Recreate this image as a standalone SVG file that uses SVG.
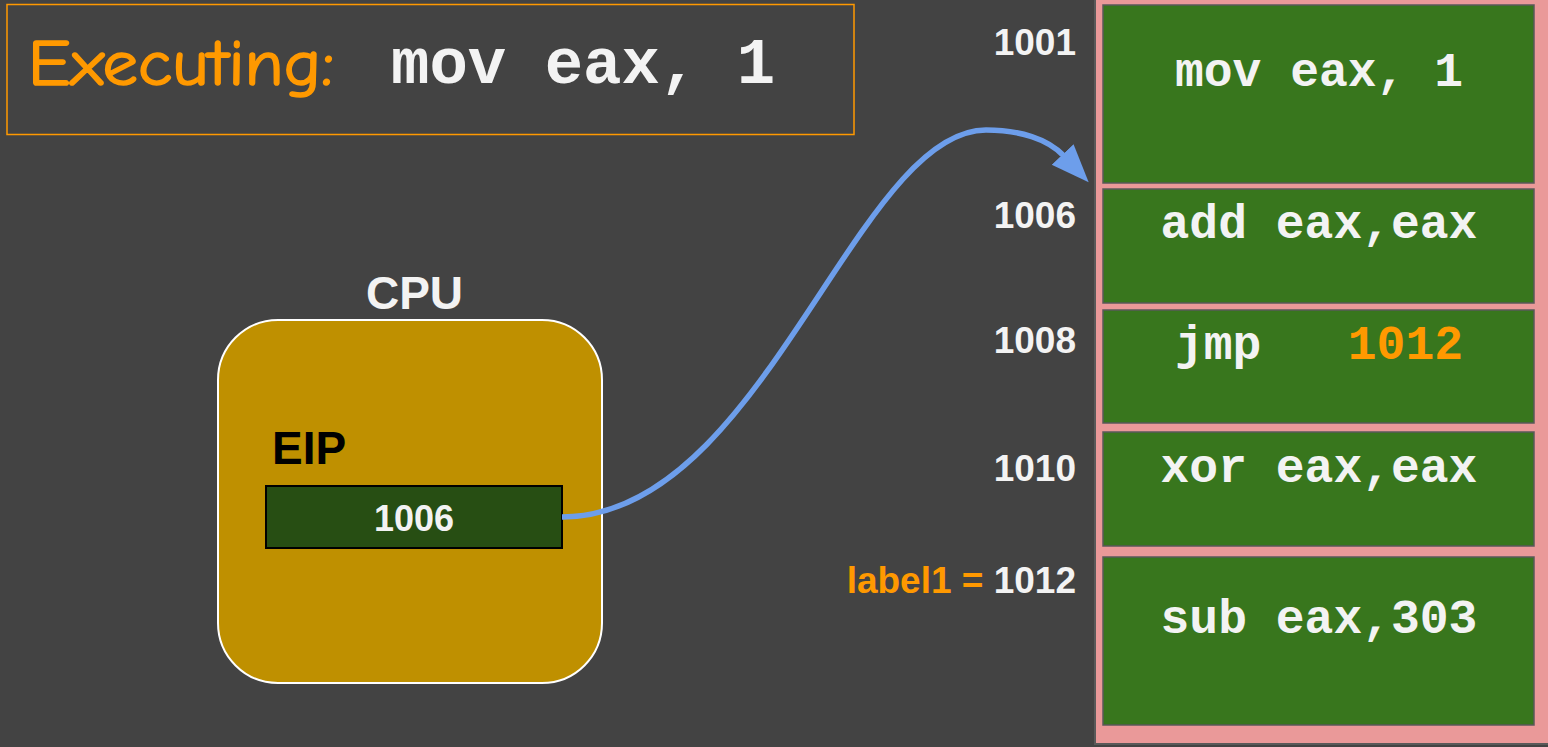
<svg xmlns="http://www.w3.org/2000/svg" width="1548" height="747" viewBox="0 0 1548 747">
  <style>
    .mono { font-family: "Liberation Mono", "Courier New", monospace; font-weight: bold; fill: #f3f3f3; }
    .sans { font-family: "Liberation Sans", Arial, sans-serif; font-weight: bold; }
    .addr { font-size: 37px; fill: #f3f3f3; text-anchor: end; }
    .cell { fill: #38761d; stroke: #595959; stroke-width: 1.5; }
    .code { font-size: 48px; text-anchor: middle; }
    .orange { fill: #ff9900; }
  </style>
  <defs>
    <marker id="arrow" markerUnits="userSpaceOnUse" markerWidth="42" markerHeight="32" refX="2" refY="15" orient="auto">
      <path d="M0,0 L38,15 L0,30 z" fill="#6d9eeb"/>
    </marker>
  </defs>
  <rect x="0" y="0" width="1548" height="747" fill="#434343"/>

  <g id="executing">
    <rect x="7" y="4.5" width="847" height="130" fill="none" stroke="#ff9900" stroke-width="1.5"/>
    <text x="28" y="85" font-family="'Comic Sans MS', 'Comic Neue', 'Open Sans', sans-serif" font-size="64" fill="#ff9900" stroke="#ff9900" stroke-width="1.6" textLength="306" lengthAdjust="spacingAndGlyphs">Executing:</text>
    <text class="mono" x="391" y="83" font-size="64">mov eax, 1</text>
  </g>

  <g id="cpu">
    <text class="sans" x="414.5" y="309" font-size="46" fill="#f3f3f3" text-anchor="middle">CPU</text>
    <rect x="218" y="320" width="384" height="363" rx="60" ry="60" fill="#bf9000" stroke="#ffffff" stroke-width="2"/>
    <text class="sans" x="272" y="464" font-size="46" fill="#000000">EIP</text>
  </g>

  <g id="eip">
    <rect x="266" y="486" width="296" height="62" fill="#274e13" stroke="#000000" stroke-width="2"/>
    <text class="sans" x="414" y="531" font-size="36" fill="#f3f3f3" text-anchor="middle">1006</text>
  </g>

  <g id="memory">
    <rect x="1095" y="-2" width="460" height="746" fill="#ea9999" stroke="#595959" stroke-width="2"/>
  </g>

  <g id="cell-1001">
    <rect class="cell" x="1103" y="5" width="431" height="178"/>
    <text class="mono code" x="1319" y="86">mov eax, 1</text>
    <text class="sans addr" x="1076" y="55">1001</text>
  </g>
  <g id="cell-1006">
    <rect class="cell" x="1103" y="189" width="431" height="114"/>
    <text class="mono code" x="1319" y="238">add eax,eax</text>
    <text class="sans addr" x="1076" y="228">1006</text>
  </g>
  <g id="cell-1008">
    <rect class="cell" x="1103" y="310" width="431" height="113"/>
    <text class="mono" x="1175" y="359" font-size="48">jmp</text>
    <text class="mono orange" x="1347.8" y="359" font-size="48" style="fill:#ff9900">1012</text>
    <text class="sans addr" x="1076" y="353">1008</text>
  </g>
  <g id="cell-1010">
    <rect class="cell" x="1103" y="432" width="431" height="114"/>
    <text class="mono code" x="1319" y="482">xor eax,eax</text>
    <text class="sans addr" x="1076" y="481">1010</text>
  </g>
  <g id="cell-1012">
    <rect class="cell" x="1103" y="557" width="431" height="168"/>
    <text class="mono code" x="1319" y="633">sub eax,303</text>
    <text class="sans addr" x="1076" y="593"><tspan style="fill:#ff9900">label1 = </tspan>1012</text>
  </g>

  <g id="connectors">
    <path d="M562,517 C762,517 856,130 986,130 C1020,130 1048,139 1064,156" fill="none" stroke="#6d9eeb" stroke-width="5.5" marker-end="url(#arrow)"/>
  </g>
</svg>
